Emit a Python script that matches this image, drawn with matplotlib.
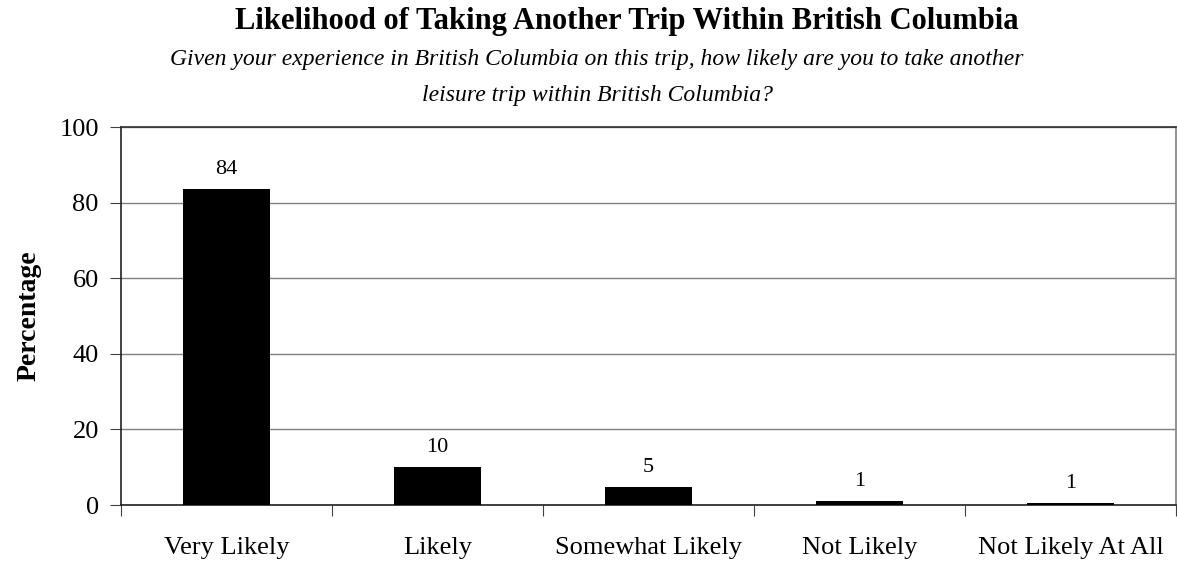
import matplotlib.pyplot as plt
import numpy as np

categories = ["Very Likely", "Likely", "Somewhat Likely", "Not Likely", "Not Likely At All"]
values = [83.7, 10.1, 4.8, 1.1, 0.6]
labels = ["84", "10", "5", "1", "1"]
yticks = [0, 20, 40, 60, 80, 100]

plt.rcParams['font.family'] = ['Liberation Serif', 'DejaVu Serif']

fig = plt.figure(figsize=(11.77, 5.62), dpi=100)
ax = fig.add_axes([121/1177, 1 - 505/562, (1176-121)/1177, (505-127)/562])

x = np.arange(len(categories))
ax.bar(x, values, width=0.41, color='black', zorder=3)
for xi, v, lab in zip(x, values, labels):
    ax.text(xi, v + 2.5, lab, ha='center', va='bottom', fontsize=16)

ax.set_xlim(-0.5, len(categories) - 0.5)
ax.set_ylim(0, 100)
ax.set_yticks(yticks)
ax.set_yticklabels([str(t) for t in yticks], fontsize=19)
ax.yaxis.grid(True, color='#808080', linewidth=1, zorder=0)

# category boundaries as major ticks, names on minor ticks
ax.set_xticks(np.arange(-0.5, len(categories), 1))
ax.set_xticklabels([])
ax.set_xticks(x, minor=True)
ax.set_xticklabels(categories, minor=True, fontsize=19)
ax.tick_params(axis='x', which='major', direction='out', length=8, color='#404040')
ax.tick_params(axis='x', which='minor', length=0, pad=23)
ax.tick_params(axis='y', direction='out', length=8, color='#404040', pad=8)

ax.spines['left'].set_color('#202020')
ax.spines['bottom'].set_color('#202020')
ax.spines['right'].set_color('#808080')
ax.spines['top'].set_color('#303030')
for s in ax.spines.values():
    s.set_linewidth(1.2)

ax.set_ylabel('Percentage', fontsize=20, fontweight='bold', labelpad=13)

fig.text(627/1177, 1 - 22/562, 'Likelihood of Taking Another Trip Within British Columbia',
         ha='center', va='center', fontsize=22, fontweight='bold')
fig.text(597/1177, 1 - 60/562, 'Given your experience in British Columbia on this trip, how likely are you to take another',
         ha='center', va='center', fontsize=17, style='italic')
fig.text(598/1177, 1 - 96/562, 'leisure trip within British Columbia?',
         ha='center', va='center', fontsize=17, style='italic')

fig.savefig('out.png', dpi=100)
